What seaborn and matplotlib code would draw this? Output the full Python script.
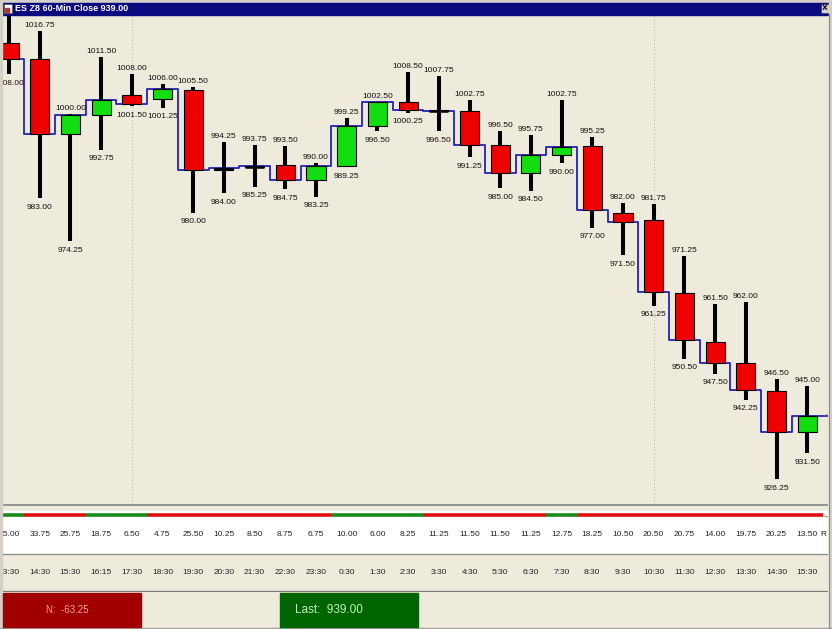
import numpy as np
import pandas as pd
import matplotlib.pyplot as plt
import matplotlib.transforms as mtransforms
from matplotlib.patches import Rectangle
import seaborn as sns

# --- data ---
times = ["13:30", "14:30", "15:30", "16:15", "17:30", "18:30", "19:30", "20:30", "21:30",
         "22:30", "23:30", "0:30", "1:30", "2:30", "3:30", "4:30", "5:30", "6:30", "7:30",
         "8:30", "9:30", "10:30", "11:30", "12:30", "13:30", "14:30", "15:30"]
opens = [1014.25, 1011.00, 996.00, 999.75, 1003.75, 1003.00, 1004.75, 988.75, 989.25,
         989.75, 986.75, 989.50, 997.50, 1002.50, 1000.75, 1000.50, 993.75, 988.00, 991.75,
         993.50, 980.00, 978.50, 963.75, 954.00, 949.75, 944.00, 935.75]
highs = [1023.00, 1016.75, 1000.00, 1011.50, 1008.00, 1006.00, 1005.50, 994.25, 993.75,
         993.50, 990.00, 999.25, 1002.50, 1008.50, 1007.75, 1002.75, 996.50, 995.75, 1002.75,
         995.25, 982.00, 981.75, 971.25, 961.50, 962.00, 946.50, 945.00]
lows = [1008.00, 983.00, 974.25, 992.75, 1001.50, 1001.25, 980.00, 984.00, 985.25,
        984.75, 983.25, 989.25, 996.50, 1000.25, 996.50, 991.25, 985.00, 984.50, 990.00,
        977.00, 971.50, 961.25, 950.50, 947.50, 942.25, 926.25, 931.50]
closes = [1011.00, 996.00, 999.75, 1002.75, 1002.00, 1005.00, 988.75, 989.00, 989.50,
          986.75, 989.50, 997.50, 1002.50, 1000.75, 1000.50, 993.75, 988.00, 991.75, 993.25,
          980.50, 978.25, 964.00, 954.25, 949.75, 944.25, 935.75, 939.00]
trend = ["G", "R", "R", "G", "G", "R", "R", "R", "R", "R", "R", "G", "G", "G",
         "R", "R", "R", "R", "G", "R", "R", "R", "R", "R", "R", "R", "R"]
session_starts = ["17:30", "10:30"]
net_change = -63.25
title = "ES Z8 60-Min Close 939.00"

df = pd.DataFrame({"time": times, "open": opens, "high": highs, "low": lows, "close": closes})
df["idx"] = np.arange(len(df))
df["range"] = df["high"] - df["low"]

# --- style ---
BG = "#EEEBDC"
RED = "#EE0000"
GREEN = "#11DD11"
sns.set_style("white")
plt.rcParams["font.family"] = ["Liberation Sans", "DejaVu Sans"]

W, H = 832, 629
fig = plt.figure(figsize=(W / 100, H / 100), dpi=100)
fig.patch.set_facecolor(BG)


def px_axes(x0, y0, x1, y1, **kw):
    return fig.add_axes([x0 / W, 1 - y1 / H, (x1 - x0) / W, (y1 - y0) / H], **kw)


# x in candle units: candle 0 at pixel 9, 30.7 px apart
step = 30.7
xlim = ((2 - 9) / step, (828 - 9) / step)

# --- price panel ---
ax = px_axes(2, 15, 828, 504)
ax.set_facecolor(BG)
ppx = 4.95  # pixels per point
ax.set_xlim(*xlim)
ax.set_ylim(1016.75 - (504 - 31) / ppx, 1016.75 + (31 - 15) / ppx)
for s in ax.spines.values():
    s.set_visible(False)
ax.set_xticks([])
ax.set_yticks([])

for t in session_starts:
    i = df.index[df["time"] == t][0]
    ax.axvline(i, color="#BDBDB5", lw=0.8, ls=(0, (1, 2)), zorder=0.5)

# close step line
sns.lineplot(data=df, x="idx", y="close", drawstyle="steps-mid", color="#2222BB",
             lw=1.3, ax=ax, zorder=1.5, legend=False)
ax.hlines(df["close"].iloc[-1], df["idx"].iloc[-1], xlim[1], color="#2222BB", lw=1.3, zorder=1.5)
ax.text(xlim[1], df["close"].iloc[-1], "<", color="#707070", fontsize=5,
        ha="right", va="center", zorder=4)
ax.set_xlabel("")
ax.set_ylabel("")

# wicks and bodies
ax.vlines(df["idx"], df["low"], df["high"], color="black", lw=2.9, zorder=2)
colors = [GREEN if c > o else RED for o, c in zip(df["open"], df["close"])]
ax.bar(df["idx"], df["close"] - df["open"], bottom=df["open"], width=0.62,
       color=colors, edgecolor="black", linewidth=0.8, zorder=3)
doji = df[(df["close"] - df["open"]).abs() <= 0.25]
ax.hlines((doji["open"] + doji["close"]) / 2, doji["idx"] - 0.31, doji["idx"] + 0.31,
          color="black", lw=1.8, zorder=3.5)

for _, r in df.iterrows():
    ax.annotate(f"{r['high']:.2f}", (r["idx"], r["high"]), xytext=(0, 2.9),
                textcoords="offset points", ha="center", va="baseline",
                fontsize=6, color="#111111", clip_on=True)
    ax.annotate(f"{r['low']:.2f}", (r["idx"], r["low"]), xytext=(0, -4),
                textcoords="offset points", ha="center", va="top",
                fontsize=6, color="#111111", clip_on=True)

# --- range / time strip ---
axb = px_axes(2, 504, 828, 592)
axb.set_facecolor(BG)
axb.set_xlim(*xlim)
axb.set_ylim(592, 504)
axb.axis("off")
axb.axhspan(511, 553, color="white", zorder=0)
axb.axhline(505, color="#7A7A7A", lw=1.1)
axb.axhline(553.5, color="#8A8A8A", lw=0.9)
axb.axhline(591, color="#7A7A7A", lw=0.9)

# trend strip, drawn as runs of equal colour
runs = (pd.Series(trend) != pd.Series(trend).shift()).cumsum()
for _, grp in pd.Series(trend).groupby(runs):
    axb.hlines(515, grp.index[0] - 0.5, grp.index[-1] + 0.5,
               color="#1A8A1A" if grp.iloc[0] == "G" else "#DD1111", lw=2.6)
axb.hlines(515.5, len(df) - 0.5, xlim[1], color="#9A9A9A", lw=0.8)

for i, rg, tm in zip(df["idx"], df["range"], df["time"]):
    axb.text(i, 535, f"{rg:.2f}", ha="center", va="center", fontsize=6,
             color="#222222", clip_on=True)
    axb.text(i, 572, tm, ha="center", va="center", fontsize=6,
             color="#222222", clip_on=True)
blend = mtransforms.blended_transform_factory(axb.transAxes, axb.transData)
axb.text((823 - 2) / 826, 535, "R", transform=blend, ha="center", va="center",
         fontsize=6, color="#222222")

# --- window frame, title bar, status boxes ---
axf = px_axes(0, 0, W, H, zorder=10)
axf.patch.set_alpha(0)
axf.set_xlim(0, W)
axf.set_ylim(H, 0)
axf.axis("off")
axf.add_patch(Rectangle((0, 0), W, 2.5, color="#D4D0C8"))
axf.add_patch(Rectangle((2, 2.5), 827, 12, color="#0A0A7E"))
axf.add_patch(Rectangle((3.5, 4), 8, 9, facecolor="white", edgecolor="#555555", lw=0.5))
axf.add_patch(Rectangle((5, 8), 4, 4, color="#C03030"))
axf.text(15, 8.7, title, color="white", fontsize=6.5, fontweight="bold",
         ha="left", va="center")
axf.add_patch(Rectangle((820.5, 4), 8, 8.5, facecolor="#D4D0C8", edgecolor="#404040", lw=0.5))
axf.text(824.5, 8.3, "×", fontsize=7, fontweight="bold", ha="center", va="center", color="black")
axf.add_patch(Rectangle((0, 0), 2, H, color="#D4D0C8"))
axf.add_patch(Rectangle((829, 0), 3, H, color="#D4D0C8"))
axf.plot([829, 829], [14, H], color="#8A8A8A", lw=0.8)
axf.add_patch(Rectangle((0, 627.5), W, 1.5, color="#A0A0A0"))

axf.add_patch(Rectangle((3, 593), 138, 34, color="#A00000"))
axf.text(67, 610, f"N:  {net_change:.2f}", color="#F4A6A6", fontsize=7,
         ha="center", va="center")
axf.add_patch(Rectangle((280, 593), 138, 34, color="#006400"))
axf.text(329, 610, f"Last:  {df['close'].iloc[-1]:.2f}", color="#BFEFBF", fontsize=8.5,
         ha="center", va="center")

fig.savefig("out.png", dpi=100, facecolor=fig.get_facecolor())
